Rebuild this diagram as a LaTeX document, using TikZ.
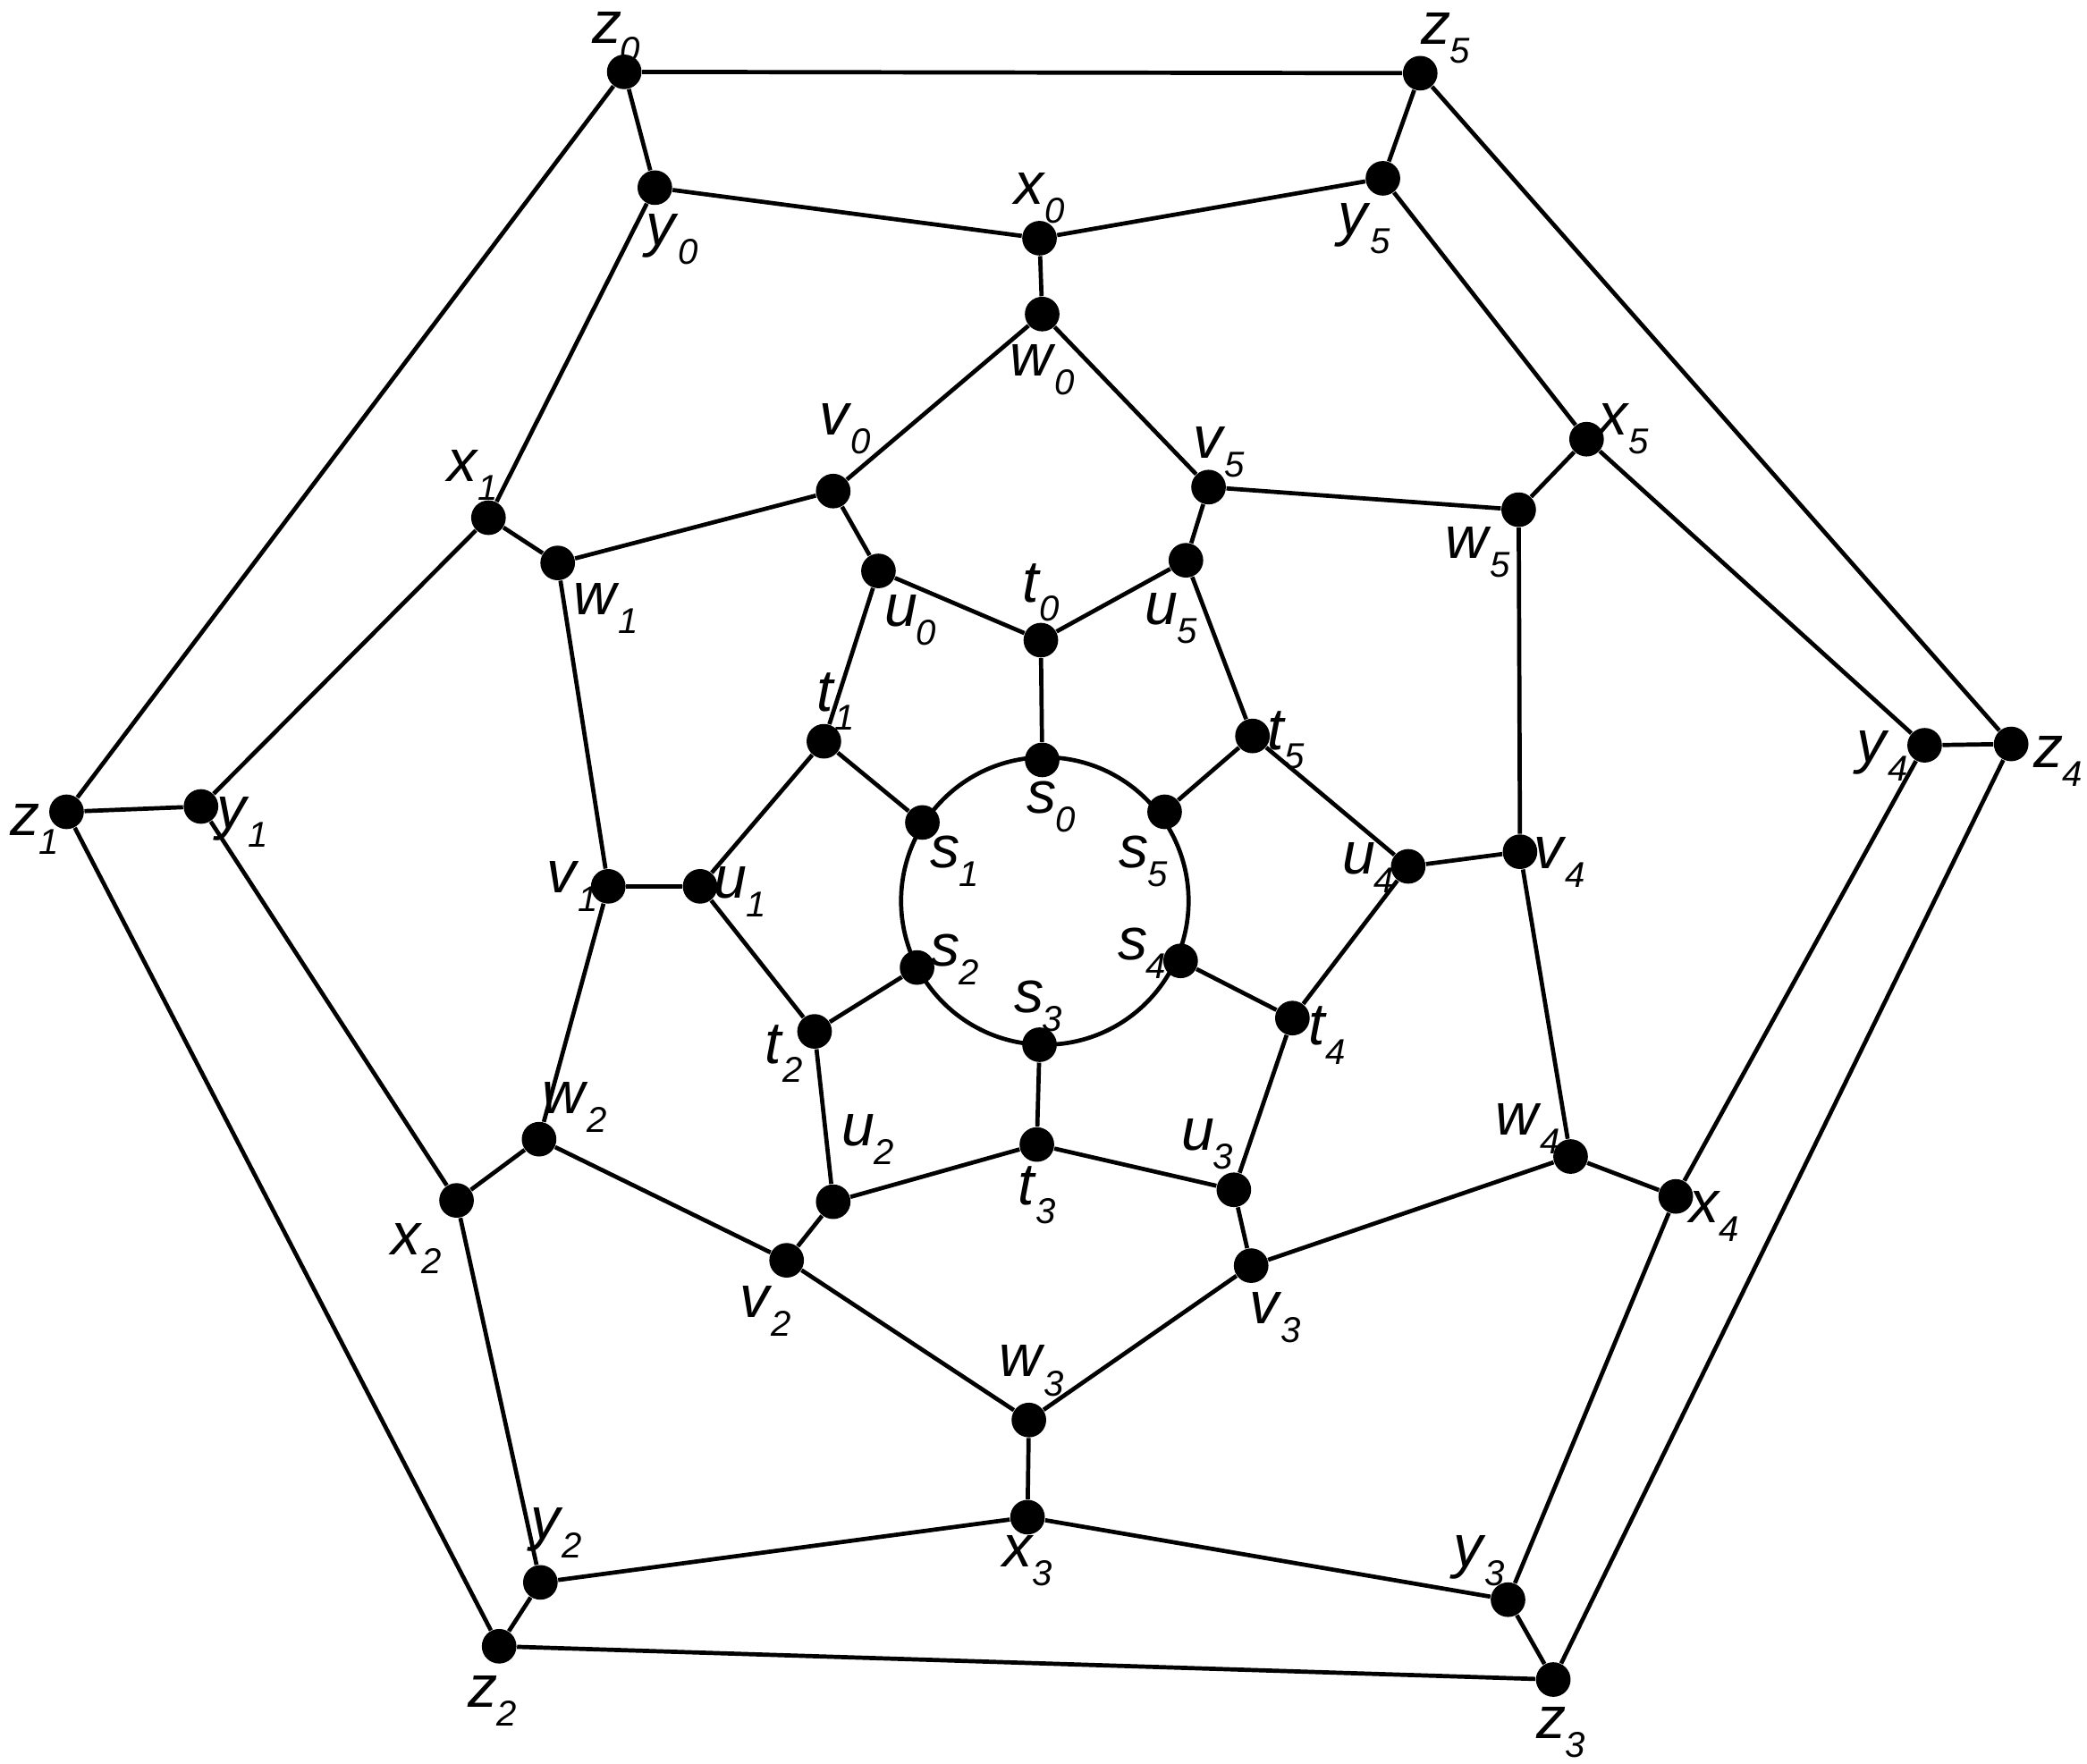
\documentclass[tikz,border=0pt]{standalone}
\usepackage{fontspec}
\setmainfont{Liberation Sans}
\newcommand{\vl}[2]{\textit{#1}\kern-0.02em\raisebox{-0.6ex}{\fontsize{11.5}{12}\selectfont\textit{#2}}}
\begin{document}
\begin{tikzpicture}[x=0.015cm,y=-0.015cm,
    dot/.style={circle,fill=black,inner sep=0pt,minimum size=0.39cm},
    lab/.style={inner sep=0pt,font=\fontsize{19}{21}\selectfont},
    edge/.style={line width=1.35pt}]
    \useasboundingbox (0,0) rectangle (1568,1325);

    % outer ring
    \node[dot] (z0) at (469,54) {};
    \node[dot] (z5) at (1067,55) {};
    \node[dot] (z4) at (1511,559) {};
    \node[dot] (z3) at (1167,1262) {};
    \node[dot] (z2) at (375,1237) {};
    \node[dot] (z1) at (50,610) {};

    \node[dot] (y0) at (492,141) {};
    \node[dot] (y5) at (1039,134) {};
    \node[dot] (y4) at (1446,560) {};
    \node[dot] (y3) at (1133,1202) {};
    \node[dot] (y2) at (406,1189) {};
    \node[dot] (y1) at (151,606) {};

    \node[dot] (x0) at (781,179) {};
    \node[dot] (x5) at (1192,330) {};
    \node[dot] (x4) at (1259,899) {};
    \node[dot] (x3) at (772,1140) {};
    \node[dot] (x2) at (343,902) {};
    \node[dot] (x1) at (367,389) {};

    \node[dot] (w0) at (783,236) {};
    \node[dot] (w5) at (1141,383) {};
    \node[dot] (w4) at (1180,869) {};
    \node[dot] (w3) at (773,1067) {};
    \node[dot] (w2) at (405,856) {};
    \node[dot] (w1) at (419,423) {};

    \node[dot] (v0) at (626,369) {};
    \node[dot] (v5) at (908,366) {};
    \node[dot] (v4) at (1142,640) {};
    \node[dot] (v3) at (940,951) {};
    \node[dot] (v2) at (591,947) {};
    \node[dot] (v1) at (457,666) {};

    \node[dot] (u0) at (660,429) {};
    \node[dot] (u5) at (891,421) {};
    \node[dot] (u4) at (1058,651) {};
    \node[dot] (u3) at (927,894) {};
    \node[dot] (u2) at (626,903) {};
    \node[dot] (u1) at (526,666) {};

    \node[dot] (t0) at (782,481) {};
    \node[dot] (t5) at (941,553) {};
    \node[dot] (t4) at (971,765) {};
    \node[dot] (t3) at (779,860) {};
    \node[dot] (t2) at (612,775) {};
    \node[dot] (t1) at (619,557) {};

    % inner ring on the circle
    \coordinate (cen) at (785,677);
    \node[dot] (s0) at (783,571) {};
    \node[dot] (s5) at (875,610) {};
    \node[dot] (s4) at (887,722) {};
    \node[dot] (s3) at (781,785) {};
    \node[dot] (s2) at (689,727) {};
    \node[dot] (s1) at (693,618) {};

    % labels
    \node[lab] (lz0) at (463,28) {\vl{z}{0}};
    \node[lab] (lz5) at (1086,29) {\vl{z}{5}};
    \node[lab] (lz4) at (1546,572) {\vl{z}{4}};
    \node[lab] (lz3) at (1173,1302) {\vl{z}{3}};
    \node[lab] (lz2) at (370,1278) {\vl{z}{2}};
    \node[lab] (lz1) at (26,623) {\vl{z}{1}};

    \node[lab] (ly0) at (505,180) {\vl{y}{0}};
    \node[lab] (ly5) at (1025,172) {\vl{y}{5}};
    \node[lab] (ly4) at (1414,568) {\vl{y}{4}};
    \node[lab] (ly3) at (1111,1173) {\vl{y}{3}};
    \node[lab] (ly2) at (418,1152) {\vl{y}{2}};
    \node[lab] (ly1) at (182,618) {\vl{y}{1}};

    \node[lab] (lx0) at (781,149) {\vl{x}{0}};
    \node[lab] (lx5) at (1220,322) {\vl{x}{5}};
    \node[lab] (lx4) at (1288,914) {\vl{x}{4}};
    \node[lab] (lx3) at (772,1173) {\vl{x}{3}};
    \node[lab] (lx2) at (313,938) {\vl{x}{2}};
    \node[lab] (lx1) at (355,357) {\vl{x}{1}};

    \node[lab] (lw0) at (783,278) {\vl{w}{0}};
    \node[lab] (lw5) at (1110,415) {\vl{w}{5}};
    \node[lab] (lw4) at (1148,848) {\vl{w}{4}};
    \node[lab] (lw3) at (775,1030) {\vl{w}{3}};
    \node[lab] (lw2) at (432,832) {\vl{w}{2}};
    \node[lab] (lw1) at (455,457) {\vl{w}{1}};

    \node[lab] (lv0) at (635,322) {\vl{v}{0}};
    \node[lab] (lv5) at (916,340) {\vl{v}{5}};
    \node[lab] (lv4) at (1172,648) {\vl{v}{4}};
    \node[lab] (lv3) at (958,990) {\vl{v}{3}};
    \node[lab] (lv2) at (575,985) {\vl{v}{2}};
    \node[lab] (lv1) at (430,666) {\vl{v}{1}};

    \node[lab] (lu0) at (684,466) {\vl{u}{0}};
    \node[lab] (lu5) at (880,465) {\vl{u}{5}};
    \node[lab] (lu4) at (1028,652) {\vl{u}{4}};
    \node[lab] (lu3) at (907,860) {\vl{u}{3}};
    \node[lab] (lu2) at (652,856) {\vl{u}{2}};
    \node[lab] (lu1) at (556,670) {\vl{u}{1}};

    \node[lab] (lt0) at (782,445) {\vl{t}{0}};
    \node[lab] (lt5) at (966,556) {\vl{t}{5}};
    \node[lab] (lt4) at (997,778) {\vl{t}{4}};
    \node[lab] (lt3) at (779,898) {\vl{t}{3}};
    \node[lab] (lt2) at (589,792) {\vl{t}{2}};
    \node[lab] (lt1) at (628,527) {\vl{t}{1}};

    \node[lab] (ls0) at (790,606) {\vl{s}{0}};
    \node[lab] (ls5) at (859,647) {\vl{s}{5}};
    \node[lab] (ls4) at (858,716) {\vl{s}{4}};
    \node[lab] (ls3) at (780,756) {\vl{s}{3}};
    \node[lab] (ls2) at (717,721) {\vl{s}{2}};
    \node[lab] (ls1) at (717,647) {\vl{s}{1}};

    % edges
    \draw[edge] (z0) -- (z5) -- (z4) -- (z3) -- (z2) -- (z1) -- (z0);
    \draw[edge] (z0) -- (y0);
    \draw[edge] (z5) -- (y5);
    \draw[edge] (z4) -- (y4);
    \draw[edge] (z3) -- (y3);
    \draw[edge] (z2) -- (y2);
    \draw[edge] (z1) -- (y1);
    \draw[edge] (y0) -- (x0) -- (y5) -- (x5) -- (y4) -- (x4) -- (y3) -- (x3) -- (y2) -- (x2) -- (y1) -- (x1) -- (y0);
    \draw[edge] (x0) -- (w0);
    \draw[edge] (x5) -- (w5);
    \draw[edge] (x4) -- (w4);
    \draw[edge] (x3) -- (w3);
    \draw[edge] (x2) -- (w2);
    \draw[edge] (x1) -- (w1);
    \draw[edge] (w0) -- (v0) -- (w1) -- (v1) -- (w2) -- (v2) -- (w3) -- (v3) -- (w4) -- (v4) -- (w5) -- (v5) -- (w0);
    \draw[edge] (v0) -- (u0);
    \draw[edge] (v5) -- (u5);
    \draw[edge] (v4) -- (u4);
    \draw[edge] (v3) -- (u3);
    \draw[edge] (v2) -- (u2);
    \draw[edge] (v1) -- (u1);
    \draw[edge] (u0) -- (t0) -- (u5) -- (t5) -- (u4) -- (t4) -- (u3) -- (t3) -- (u2) -- (t2) -- (u1) -- (t1) -- (u0);
    \draw[edge] (t0) -- (s0);
    \draw[edge] (t5) -- (s5);
    \draw[edge] (t4) -- (s4);
    \draw[edge] (t3) -- (s3);
    \draw[edge] (t2) -- (s2);
    \draw[edge] (t1) -- (s1);
    \draw[edge] (cen) circle[radius=108];
\end{tikzpicture}
\end{document}
